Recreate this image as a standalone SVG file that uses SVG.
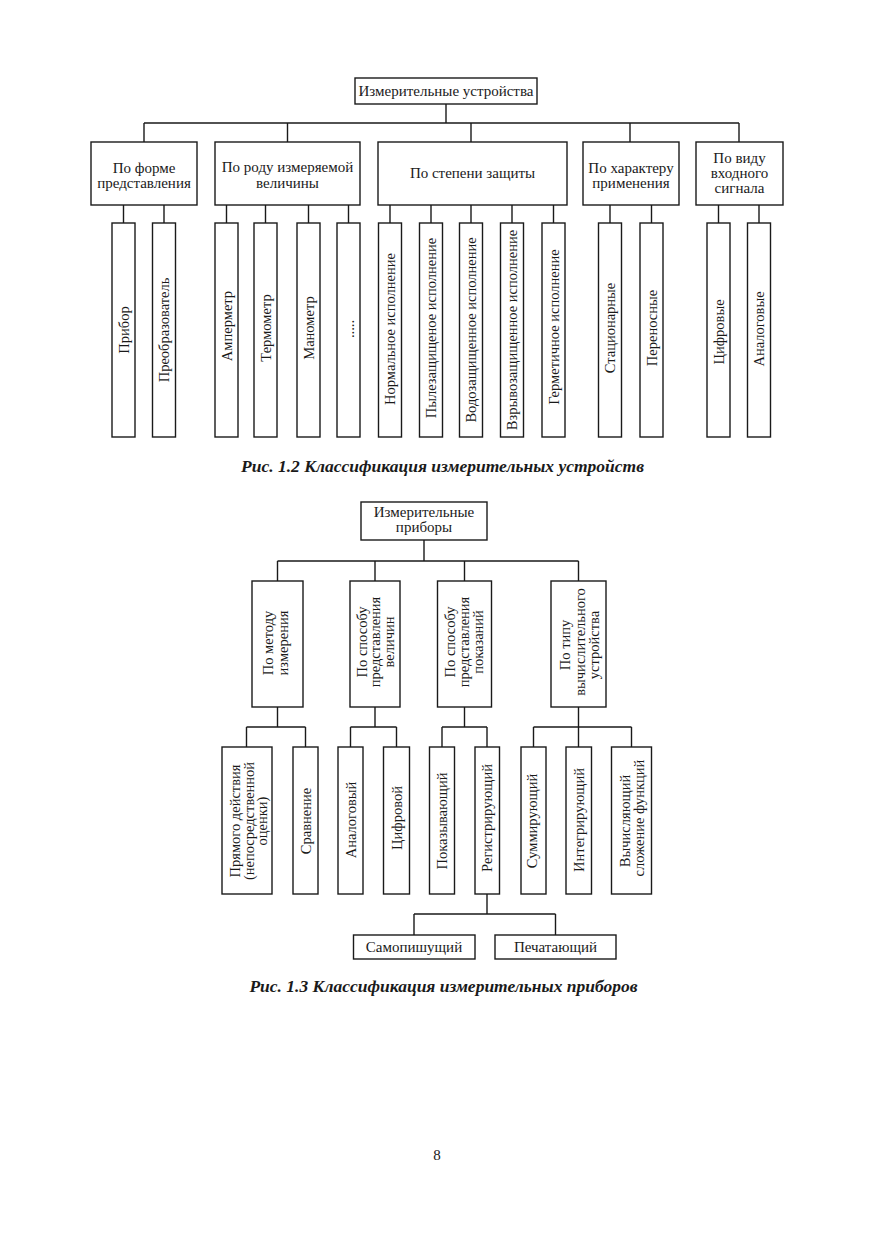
<svg xmlns="http://www.w3.org/2000/svg" width="875" height="1241" viewBox="0 0 875 1241">
<style>
.bx{fill:#fff;stroke:#1a1a1a;stroke-width:1.4}
.ln{fill:none;stroke:#1a1a1a;stroke-width:1.4}
.t{font-family:"Liberation Serif","Times New Roman",serif;font-size:15px;fill:#1a1a1a;text-anchor:middle}
.v{font-size:14.5px}
.cap{font-family:"Liberation Serif","Times New Roman",serif;font-size:17.5px;font-weight:bold;font-style:italic;fill:#1a1a1a;text-anchor:middle}
</style>
<rect x="0" y="0" width="875" height="1241" fill="#fff"/>

<!-- ===== Figure 1.2 ===== -->
<g id="connectors-fig12" class="ln">
<path d="M446,104V123M144,123H739M144,123V142M287.5,123V142M471,123V142M630,123V142M739,123V142"/>
<path d="M123.5,205V223M164,205V223"/>
<path d="M226.5,205V223M265.5,205V223M308.5,205V223M348.5,205V223"/>
<path d="M390,205V223M431,205V223M471,205V223M512,205V223M553.5,205V223"/>
<path d="M610,205V223M651.5,205V223"/>
<path d="M718.5,205V223M759,205V223"/>
</g>

<g id="n-root1"><rect class="bx" x="355" y="78" width="182" height="26"/><text class="t" x="446" y="96">Измерительные устройства</text></g>

<g id="n-forma"><rect class="bx" x="91" y="142" width="106" height="63"/><text class="t" x="144" y="173">По форме</text><text class="t" x="144" y="188">представления</text></g>
<g id="n-rod"><rect class="bx" x="215" y="142" width="145" height="63"/><text class="t" x="287.5" y="172">По роду измеряемой</text><text class="t" x="287.5" y="188">величины</text></g>
<g id="n-zashita"><rect class="bx" x="378" y="142" width="189" height="63"/><text class="t" x="472.5" y="178">По степени защиты</text></g>
<g id="n-harakter"><rect class="bx" x="583" y="142" width="96" height="63"/><text class="t" x="631" y="173">По характеру</text><text class="t" x="631" y="188">применения</text></g>
<g id="n-signal"><rect class="bx" x="696" y="142" width="87" height="63"/><text class="t" x="739.5" y="163">По виду</text><text class="t" x="739.5" y="178">входного</text><text class="t" x="739.5" y="193">сигнала</text></g>

<g id="n-pribor"><rect class="bx" x="112" y="223" width="23" height="214"/><text class="t v" transform="translate(128.5,330) rotate(-90)">Прибор</text></g>
<g id="n-preobr"><rect class="bx" x="152.5" y="223" width="23" height="214"/><text class="t v" transform="translate(169,330) rotate(-90)">Преобразователь</text></g>
<g id="n-amper"><rect class="bx" x="215" y="223" width="23" height="214"/><text class="t v" transform="translate(231.5,326) rotate(-90)">Амперметр</text></g>
<g id="n-termo"><rect class="bx" x="254" y="223" width="23" height="214"/><text class="t v" transform="translate(270.5,328) rotate(-90)">Термометр</text></g>
<g id="n-mano"><rect class="bx" x="297" y="223" width="23" height="214"/><text class="t v" transform="translate(313.5,328) rotate(-90)">Манометр</text></g>
<g id="n-dots"><rect class="bx" x="337" y="223" width="23" height="214"/><text class="t v" transform="translate(353.5,329) rotate(-90)">.....</text></g>
<g id="n-norm"><rect class="bx" x="378.5" y="223" width="23" height="214"/><text class="t v" transform="translate(395,329) rotate(-90)">Нормальное исполнение</text></g>
<g id="n-pyle"><rect class="bx" x="419.5" y="223" width="23" height="214"/><text class="t v" transform="translate(436,328) rotate(-90)">Пылезащищеное исполнение</text></g>
<g id="n-vodo"><rect class="bx" x="459.5" y="223" width="23" height="214"/><text class="t v" transform="translate(476,330) rotate(-90)">Водозащищенное исполнение</text></g>
<g id="n-vzryv"><rect class="bx" x="500.5" y="223" width="23" height="214"/><text class="t v" transform="translate(517,330) rotate(-90)">Взрывозащищенное исполнение</text></g>
<g id="n-germ"><rect class="bx" x="542" y="223" width="23" height="214"/><text class="t v" transform="translate(558.5,327) rotate(-90)">Герметичное исполнение</text></g>
<g id="n-stac"><rect class="bx" x="598.5" y="223" width="23" height="214"/><text class="t v" transform="translate(615,328) rotate(-90)">Стационарные</text></g>
<g id="n-pere"><rect class="bx" x="640" y="223" width="23" height="214"/><text class="t v" transform="translate(656.5,328) rotate(-90)">Переносные</text></g>
<g id="n-cifr"><rect class="bx" x="707" y="223" width="23" height="214"/><text class="t v" transform="translate(723.5,332) rotate(-90)">Цифровые</text></g>
<g id="n-analog"><rect class="bx" x="747.5" y="223" width="23" height="214"/><text class="t v" transform="translate(764,329) rotate(-90)">Аналоговые</text></g>

<text class="cap" x="442.5" y="472">Рис. 1.2 Классификация измерительных устройств</text>

<!-- ===== Figure 1.3 ===== -->
<g id="connectors-fig13" class="ln">
<path d="M424,540V561M277.5,561H578.5M277.5,561V581M375,561V581M464.5,561V581M578.5,561V581"/>
<path d="M277.5,707V727M246.5,727H305.5M246.5,727V747M305.5,727V747"/>
<path d="M375,707V727M350.5,727H396.5M350.5,727V747M396.5,727V747"/>
<path d="M464.5,707V727M442,727H487M442,727V747M487,727V747"/>
<path d="M578.5,707V727M533.5,727H631.5M533.5,727V747M578.5,727V747M631.5,727V747"/>
<path d="M487,894V914M414,914H555.5M414,914V935M555.5,914V935"/>
</g>

<g id="n-root2"><rect class="bx" x="361" y="502" width="126" height="38"/><text class="t" x="424" y="517">Измерительные</text><text class="t" x="424" y="531.5">приборы</text></g>

<g id="n-metod"><rect class="bx" x="252" y="581" width="51" height="126"/>
<text class="t v" transform="translate(273,643) rotate(-90)">По методу</text>
<text class="t v" transform="translate(288,643) rotate(-90)">измерения</text></g>
<g id="n-vel"><rect class="bx" x="350" y="581" width="50" height="126"/>
<text class="t v" transform="translate(366.5,642) rotate(-90)">По способу</text>
<text class="t v" transform="translate(380,642) rotate(-90)">представления</text>
<text class="t v" transform="translate(393.5,642) rotate(-90)">величин</text></g>
<g id="n-pokaz"><rect class="bx" x="437.5" y="581" width="54" height="126"/>
<text class="t v" transform="translate(455,642) rotate(-90)">По способу</text>
<text class="t v" transform="translate(469,642) rotate(-90)">представления</text>
<text class="t v" transform="translate(483,642) rotate(-90)">показаний</text></g>
<g id="n-vych"><rect class="bx" x="551" y="581" width="55" height="126"/>
<text class="t v" transform="translate(570,645) rotate(-90)">По типу</text>
<text class="t v" transform="translate(585,642) rotate(-90)">вычислительного</text>
<text class="t v" transform="translate(599,645) rotate(-90)">устройства</text></g>

<g id="n-pryam"><rect class="bx" x="222" y="747" width="50" height="147"/>
<text class="t v" transform="translate(240,821) rotate(-90)">Прямого действия</text>
<text class="t v" transform="translate(253.5,821) rotate(-90)">(непосредственной</text>
<text class="t v" transform="translate(267,821) rotate(-90)">оценки)</text></g>
<g id="n-sravn"><rect class="bx" x="293" y="747" width="25" height="147"/><text class="t v" transform="translate(310.5,821) rotate(-90)">Сравнение</text></g>
<g id="n-analogovyi"><rect class="bx" x="338" y="747" width="25" height="147"/><text class="t v" transform="translate(355.5,820) rotate(-90)">Аналоговый</text></g>
<g id="n-cifrovoi"><rect class="bx" x="383.5" y="747" width="26" height="147"/><text class="t v" transform="translate(401.5,818) rotate(-90)">Цифровой</text></g>
<g id="n-pokazyv"><rect class="bx" x="429.5" y="747" width="25" height="147"/><text class="t v" transform="translate(447,821) rotate(-90)">Показывающий</text></g>
<g id="n-registr"><rect class="bx" x="475" y="747" width="24.5" height="147"/><text class="t v" transform="translate(492,818) rotate(-90)">Регистрирующий</text></g>
<g id="n-summ"><rect class="bx" x="521" y="747" width="25" height="147"/><text class="t v" transform="translate(537,821) rotate(-90)">Суммирующий</text></g>
<g id="n-integr"><rect class="bx" x="566" y="747" width="25.5" height="147"/><text class="t v" transform="translate(583.5,820) rotate(-90)">Интегрирующий</text></g>
<g id="n-vychisl"><rect class="bx" x="611.5" y="747" width="40" height="147"/>
<text class="t v" transform="translate(630,821) rotate(-90)">Вычисляющий</text>
<text class="t v" transform="translate(643.5,818) rotate(-90)">сложение функций</text></g>

<g id="n-samopis"><rect class="bx" x="353.5" y="935" width="121.5" height="24"/><text class="t" x="414" y="952">Самопишущий</text></g>
<g id="n-pechat"><rect class="bx" x="495" y="935" width="121" height="24"/><text class="t" x="555.5" y="952">Печатающий</text></g>

<text class="cap" x="443.5" y="992">Рис. 1.3 Классификация измерительных приборов</text>

<text class="t" x="437" y="1160">8</text>
</svg>
